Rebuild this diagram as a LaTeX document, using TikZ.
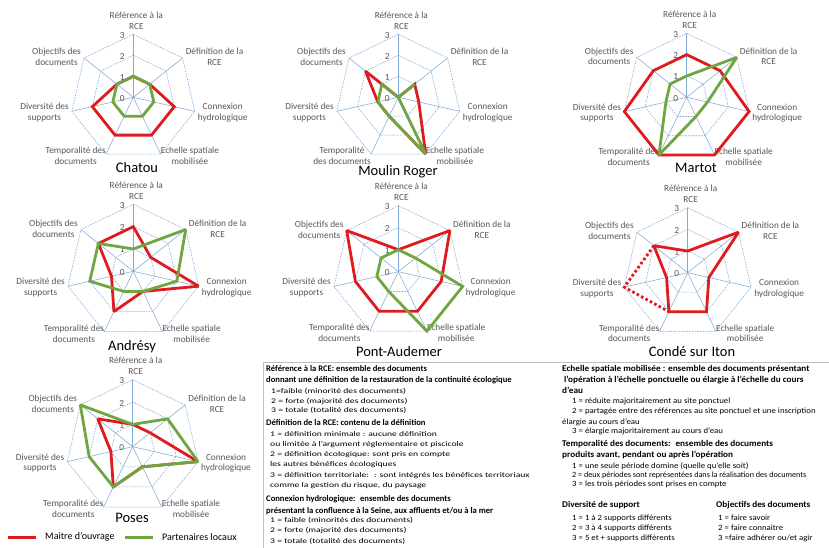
\documentclass[tikz,border=0pt]{standalone}
\usepackage{fontspec}
\setmainfont{Carlito}
\newfontfamily\stretchL[FakeStretch=1.34]{Carlito}
\newfontfamily\stretchR[FakeStretch=1.1]{Carlito}
\newfontfamily\stretchRn[FakeStretch=1.02]{Carlito}
\newfontfamily\stretchB[FakeStretch=1.05]{Carlito}
\usetikzlibrary{calc}
\definecolor{gridc}{RGB}{130,170,212}
\definecolor{redc}{RGB}{222,28,32}
\definecolor{greenc}{RGB}{112,166,66}
\definecolor{labc}{RGB}{88,88,88}
\tikzset{
  gridring/.style={draw=gridc, line width=0.55pt, dash pattern=on 1.6pt off 1.1pt},
  gridaxis/.style={draw=gridc, line width=0.55pt},
  redline/.style={draw=redc, line width=2.8pt, line join=miter, miter limit=2},
  greenline/.style={draw=greenc, line width=2.8pt, line join=miter, miter limit=2},
  reddot/.style={draw=redc, line width=2.8pt, dash pattern=on 2.6pt off 2.4pt},
  axlbl/.style={text=labc, font=\fontsize{9.3}{10.8}\selectfont, align=center, inner sep=0pt},
  scalelbl/.style={text=labc, font=\fontsize{9.3}{10}\selectfont, inner sep=0pt},
  charttitle/.style={text=black, font=\fontsize{14.5}{16}\selectfont, inner sep=0pt},
  boldL/.style={font=\bfseries\fontsize{8.6}{10}\selectfont, anchor=west, inner sep=0pt},
  boldR/.style={font=\stretchB\bfseries\fontsize{8.8}{10}\selectfont, anchor=west, inner sep=0pt},
  smallL/.style={font=\stretchL\fontsize{7.2}{8.5}\selectfont, anchor=west, inner sep=0pt},
  smallR/.style={font=\stretchR\fontsize{8}{9}\selectfont, anchor=west, inner sep=0pt},
  smallRn/.style={font=\stretchRn\fontsize{8}{9}\selectfont, anchor=west, inner sep=0pt},
  legtxt/.style={font=\fontsize{10}{12}\selectfont, anchor=west, inner sep=0pt},
  legline/.style={line width=3pt},
  boxline/.style={draw=black!25, line width=0.6pt},
}
% #1 name, #2 cx, #3 cy, #4 radius (level 3), #5 label of the Temporalite axis
\newcommand\radarchart[5]{%
  \foreach \kk in {0,...,6}{%
    \foreach \lv in {0,...,3}{%
      \coordinate (#1-\kk-\lv) at ({#2+#4*\lv/3*cos(90-\kk*360/7)},{#3-#4*\lv/3*sin(90-\kk*360/7)});
    }%
  }%
  \foreach \lv in {1,2,3}{%
    \draw[gridring] (#1-0-\lv) -- (#1-1-\lv) -- (#1-2-\lv) -- (#1-3-\lv) -- (#1-4-\lv) -- (#1-5-\lv) -- (#1-6-\lv) -- cycle;
  }%
  \foreach \kk in {0,...,6}{\draw[gridaxis] (#1-\kk-0) -- (#1-\kk-3);}%
  \foreach \lv in {0,...,3}{\node[scalelbl] (#1-s\lv) at ($(#1-0-\lv)+(-11,1)$) {\lv};}%
  \node[axlbl, anchor=south] (#1-L0) at ($(#1-0-3)+(3,-5)$) {Référence à la\\RCE};
  \node[axlbl, anchor=west] (#1-L1) at ($(#1-1-3)+(3,-1)$) {Définition de la\\RCE};
  \node[axlbl, anchor=west] (#1-L2) at ($(#1-2-3)+(3,1.5)$) {Connexion\\hydrologique};
  \node[axlbl, anchor=west] (#1-L3) at ($(#1-3-3)+(0,2)$) {Echelle spatiale\\mobilisée};
  \node[axlbl, anchor=east] (#1-L4) at ($(#1-4-3)+(0,2)$) {#5};
  \node[axlbl, anchor=east] (#1-L5) at ($(#1-5-3)+(-3,1.5)$) {Diversité des\\supports};
  \node[axlbl, anchor=east] (#1-L6) at ($(#1-6-3)+(-3,-1)$) {Objectifs des\\documents};
}
% #1 style, #2 chart name, #3..#9 values
\newcommand\radarpoly[9]{%
  \draw[#1] (#2-0-#3) -- (#2-1-#4) -- (#2-2-#5) -- (#2-3-#6) -- (#2-4-#7) -- (#2-5-#8) -- (#2-6-#9) -- cycle;
}
\begin{document}
\begin{tikzpicture}[x=1pt,y=-1pt]
\useasboundingbox (0,0) rectangle (829,548);
\fill[white] (0,0) rectangle (829,548);

% ---------- charts ----------
\radarchart{ch}{133.3}{97.3}{63}{Temporalité des\\documents}
\radarpoly{redline}{ch}{1}{1}{2}{2}{2}{2}{1}
\radarpoly{greenline}{ch}{1}{1}{1}{1}{1}{1}{1}
\node[charttitle] (t-ch) at (137,168) {Chatou};

\radarchart{mr}{398.3}{97.3}{63}{Temporalité\\des documents}
\radarpoly{redline}{mr}{0}{1}{1}{3}{1}{1}{2}
\radarpoly{greenline}{mr}{0}{1}{0}{3}{1}{1}{1}
\node[charttitle] (t-mr) at (398,172) {Moulin Roger};

\radarchart{ma}{686.7}{97.3}{64}{Temporalité des\\documents}
\radarpoly{redline}{ma}{2}{2}{3}{3}{3}{3}{2}
\radarpoly{greenline}{ma}{1}{3}{1}{1}{3}{1}{1}
\node[charttitle] (t-ma) at (696,168) {Martot};

\radarchart{an}{133.3}{271.3}{67}{Temporalité des\\documents}
\radarpoly{redline}{an}{2}{1}{3}{1}{2}{1}{2}
\radarpoly{greenline}{an}{1}{3}{2}{1}{1}{2}{2}
\node[charttitle] (t-an) at (132,347) {Andrésy};

\radarchart{pa}{398.3}{271.7}{66}{Temporalité des\\documents}
\radarpoly{redline}{pa}{1}{3}{2}{2}{2}{2}{3}
\radarpoly{greenline}{pa}{1}{1}{3}{3}{1}{1}{1}
\node[charttitle] (t-pa) at (399,352) {Pont-Audemer};

\radarchart{co}{687.7}{272.7}{65}{Temporalité des\\documents}
\radarpoly{redline}{co}{1}{3}{1}{2}{2}{1}{2}
\draw[reddot] (co-6-2) -- (co-5-3) -- (co-4-2);
\node[charttitle] (t-co) at (692,352) {Condé sur Iton};

\radarchart{po}{132.7}{446.7}{67}{Temporalité des\\documents}
\radarpoly{redline}{po}{1}{1}{3}{1}{2}{1}{2}
\radarpoly{greenline}{po}{1}{2}{3}{1}{2}{2}{3}
\node[charttitle] (t-po) at (132,518) {Poses};

% ---------- legend ----------
\coordinate (lr1) at (8,537); \coordinate (lr2) at (36,537);
\draw[legline, draw=redc] (lr1) -- (lr2);
\node[legtxt] (leg-r) at (45,537) {Maitre d’ouvrage};
\coordinate (lg1) at (125,537); \coordinate (lg2) at (153,537);
\draw[legline, draw=greenc] (lg1) -- (lg2);
\node[legtxt] (leg-g) at (162,537) {Partenaires locaux};

% ---------- text box ----------
\coordinate (bx1) at (263,362); \coordinate (bx2) at (830,362); \coordinate (bx3) at (263,549);
\draw[boxline] (bx3) -- (bx1) -- (bx2);

\node[boldL] (a1) at (266,369) {Référence à la RCE: ensemble des documents};
\node[boldL] (a2) at (266,380.5) {donnant une définition de la restauration de la continuité écologique};
\node[smallL] (a3) at (271,391) {1=faible (minorité des documents)};
\node[smallL] (a4) at (271,401.3) {2 = forte (majorité des documents)};
\node[smallL] (a5) at (271,410.7) {3 = totale (totalité des documents)};
\node[boldL] (a6) at (266,422.2) {Définition de la RCE: contenu de la définition};
\node[smallL] (a7) at (270,433.6) {1 = définition minimale : aucune définition};
\node[smallL] (a8) at (270,444.1) {ou limitée à l’argument réglementaire et piscicole};
\node[smallL] (a9) at (270,454.5) {2 = définition écologique: sont pris en compte};
\node[smallL] (a10) at (270,464.9) {les autres bénéfices écologiques};
\node[smallL] (a11) at (270,475.3) {3 = définition territoriale: \ : sont intégrés les bénéfices territoriaux};
\node[smallL] (a12) at (270,485.8) {comme la gestion du risque, du paysage};
\node[boldL] (a13) at (266,499.3) {Connexion hydrologique: \ ensemble des documents};
\node[boldL] (a14) at (266,510.8) {présentant la confluence à la Seine, aux affluents et/ou à la mer};
\node[smallL] (a15) at (270,520.4) {1 = faible (minorités des documents)};
\node[smallL] (a16) at (270,530.6) {2 = forte (majorité des documents)};
\node[smallL] (a17) at (270,541) {3 = totale (totalité des documents)};

\node[boldR] (b1) at (562,369) {Echelle spatiale mobilisée : ensemble des documents présentant};
\node[boldR] (b2) at (564,380.5) {l’opération à l’échelle ponctuelle ou élargie à l’échelle du cours};
\node[boldR] (b3) at (562,390) {d’eau};
\node[smallR] (b4) at (572,401.3) {1 = réduite majoritairement au site ponctuel};
\node[smallR] (b5) at (572,411.7) {2 = partagée entre des références au site ponctuel et une inscription};
\node[smallR] (b6) at (562,422.2) {élargie au cours d’eau};
\node[smallR] (b7) at (572,431.5) {3 = élargie majoritairement au cours d’eau};
\node[boldR] (b8) at (562,444.1) {Temporalité des documents: \ ensemble des documents};
\node[boldR] (b9) at (562,454.5) {produits avant, pendant ou après l’opération};
\node[smallR] (b10) at (572,466) {1 = une seule période domine (quelle qu’elle soit)};
\node[smallRn] (b11) at (572,475.3) {2 = deux périodes sont représentées dans la réalisation des documents};
\node[smallR] (b12) at (572,484.7) {3 = les trois périodes sont prises en compte};
\node[boldR] (b13) at (562,505) {Diversité de support};
\node[boldR] (b14) at (716,505) {Objectifs des documents};
\node[smallR] (b15) at (572,518) {1 = 1 à 2 supports différents};
\node[smallR] (b16) at (572,528) {2 = 3 à 4 supports différents};
\node[smallR] (b17) at (572,538) {3 = 5 et + supports différents};
\node[smallR] (b18) at (718,518) {1 = faire savoir};
\node[smallR] (b19) at (718,528) {2 = faire connaitre};
\node[smallR] (b20) at (718,538) {3 =faire adhérer ou/et agir};
\end{tikzpicture}
\end{document}
